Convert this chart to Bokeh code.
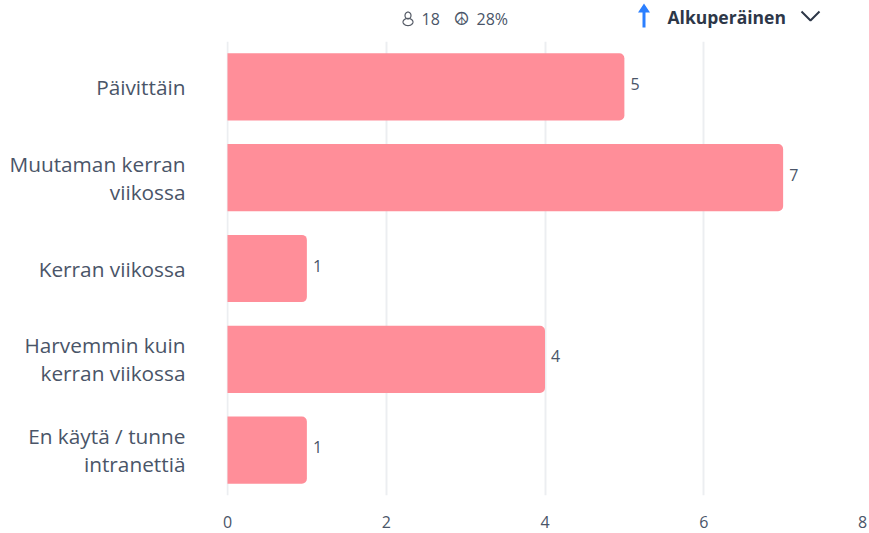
from bokeh.plotting import figure
from bokeh.layouts import column
from bokeh.embed import file_html
from bokeh.resources import INLINE
from bokeh.models import FixedTicker, ColumnDataSource
from bokeh.core.properties import value
import math

categories = ["Päivittäin", "Muutaman kerran\nviikossa", "Kerran viikossa",
              "Harvemmin kuin\nkerran viikossa", "En käytä / tunne\nintranettiä"]
counts = [5, 7, 1, 4, 1]
x_ticks = [0, 2, 4, 6, 8]
respondents = "18"
rate = "28%"
sort_label = "Alkuperäinen"

W, H = 869, 533
TOP = 41
FL, FB = 226, 495
FONT = "Open Sans"
TEXT = "#4a5568"

# header strip (its frame is aligned with the chart's frame by the column layout)
h = figure(width=W, height=TOP, x_range=(FL, W - 7), y_range=(TOP, 0), x_axis_location=None, y_axis_location=None,
           output_backend="svg", toolbar_location=None,
           min_border_left=FL, min_border_right=7, min_border_top=0, min_border_bottom=0)
h.outline_line_color = None
h.grid.visible = False

def lab(txt, x, y, size, color=TEXT, font=FONT, weight="normal"):
    h.text(x=[x], y=[y], text=[txt], text_baseline="middle", text_font=value(font),
           text_font_size=size, text_color=color, text_font_style=weight)

def ell(cx, cy, rx, ry):
    n = 24
    return ([cx + rx * math.cos(t / n * 2 * math.pi) for t in range(n + 1)],
            [cy + ry * math.sin(t / n * 2 * math.pi) for t in range(n + 1)])

hx, hy = ell(407.5, 15, 3, 3.4)
h.line(hx, hy, line_color="#555b66", line_width=1.2)
bx, by = ell(407.5, 21.5, 5, 3.6)
h.line(bx, by, line_color="#555b66", line_width=1.2)
lab(respondents, 421, 18, "16px")
lab("☮", 453, 18, "18px", font="DejaVu Sans")
lab(rate, 476, 18, "16px")
h.patch([643.5, 649.5, 645, 645, 642, 642, 637.5], [3, 12, 12, 27, 27, 12, 12], fill_color="#2b7fff", line_color=None)
lab(sort_label, 667, 16, "17.5px", color="#2d3748", weight="bold")
h.line([801, 810, 819], [11, 20, 11], line_color="#2d3748", line_width=2)

# main chart
p = figure(width=W, height=H - TOP, y_range=categories[::-1], x_range=(-0.0126, 8),
           output_backend="svg", toolbar_location=None,
           min_border_left=FL, min_border_right=7, min_border_top=0, min_border_bottom=H - FB)
p.outline_line_color = None
p.background_fill_color = "white"
p.border_fill_color = "white"

src = ColumnDataSource(dict(cat=categories, n=counts, lab=[str(c) for c in counts]))
p.hbar(y="cat", right="n", left=0, height=0.74, source=src, fill_color="#ff8e99",
       line_color=None, border_radius=(0, 5, 5, 0))
p.text(x="n", y="cat", text="lab", source=src, x_offset=6, y_offset=-3, text_baseline="middle",
       text_font=value(FONT), text_font_size="16px", text_color=TEXT)

p.ygrid.visible = False
p.xgrid.grid_line_color = "#eceef1"
p.xgrid.grid_line_width = 2
p.xgrid.ticker = FixedTicker(ticks=x_ticks)

p.xaxis.ticker = FixedTicker(ticks=x_ticks)
p.xaxis.axis_line_color = None
p.xaxis.major_tick_line_color = None
p.xaxis.minor_tick_line_color = None
p.xaxis.major_label_text_font = FONT
p.xaxis.major_label_text_font_size = "16px"
p.xaxis.major_label_text_color = TEXT
p.xaxis.major_label_standoff = 14

p.yaxis.axis_line_color = None
p.yaxis.major_tick_line_color = None
p.yaxis.minor_tick_line_color = None
p.yaxis.major_label_text_font = FONT
p.yaxis.major_label_text_font_size = "20.8px"
p.yaxis.major_label_text_color = TEXT
p.yaxis.major_label_text_line_height = 1.0
p.yaxis.major_label_standoff = 35

layout = column(h, p, spacing=0)
open("out.html", "w").write(file_html(layout, INLINE))
